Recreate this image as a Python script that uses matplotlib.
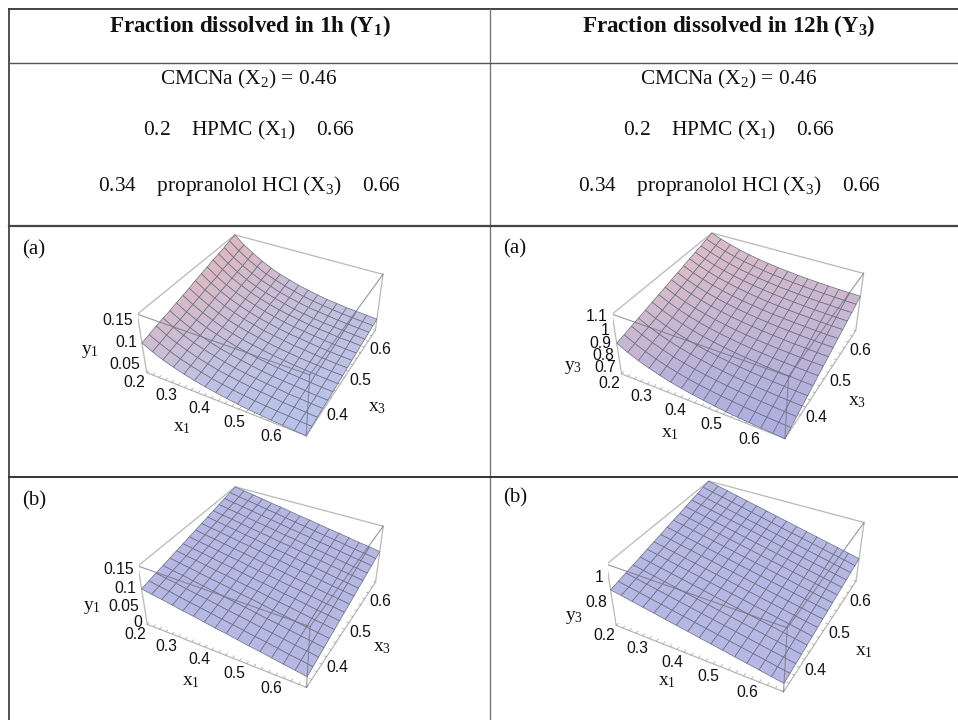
import numpy as np
import matplotlib
matplotlib.use("Agg")
import matplotlib.pyplot as plt
from matplotlib.colors import to_rgb
from mpl_toolkits.mplot3d import proj3d

plt.rcParams["font.family"] = ["Liberation Serif", "DejaVu Serif"]
plt.rcParams["mathtext.default"] = "regular"

# mesh values, rows = x3, columns = x1
y1_a = [
    [.100,.088,.078,.070,.063,.057,.052,.048,.044,.041,.038,.036,.034,.033,.031,.030],
    [.104,.092,.082,.073,.066,.060,.054,.050,.046,.043,.040,.038,.036,.035,.033,.032],
    [.109,.096,.086,.077,.069,.063,.057,.053,.049,.046,.043,.041,.038,.037,.035,.034],
    [.113,.100,.089,.080,.072,.066,.060,.055,.051,.048,.045,.043,.040,.039,.037,.036],
    [.116,.103,.092,.082,.074,.067,.062,.057,.053,.049,.046,.044,.042,.040,.038,.037],
    [.121,.107,.096,.086,.078,.071,.065,.060,.055,.052,.049,.046,.044,.042,.040,.039],
    [.125,.111,.099,.089,.080,.073,.067,.062,.058,.054,.051,.048,.046,.044,.042,.041],
    [.129,.115,.103,.092,.083,.076,.070,.065,.060,.056,.053,.050,.048,.046,.044,.043],
    [.134,.119,.107,.096,.087,.079,.073,.067,.063,.059,.055,.053,.050,.048,.046,.045],
    [.138,.123,.110,.099,.090,.082,.075,.070,.065,.061,.058,.055,.052,.050,.048,.047],
    [.142,.126,.113,.102,.093,.085,.078,.072,.067,.063,.060,.057,.054,.052,.050,.049],
    [.147,.131,.117,.106,.096,.088,.081,.075,.070,.066,.062,.059,.057,.054,.053,.051],
    [.150,.134,.120,.108,.098,.090,.083,.077,.071,.067,.063,.060,.058,.056,.054,.052],
    [.154,.137,.123,.111,.101,.093,.085,.079,.074,.069,.066,.063,.060,.058,.056,.054],
    [.159,.142,.127,.115,.104,.096,.088,.082,.076,.072,.068,.065,.062,.060,.058,.056],
    [.163,.145,.131,.118,.107,.098,.091,.084,.079,.074,.070,.067,.064,.062,.060,.058],
]
y3_a = [
    [.900,.858,.823,.793,.768,.746,.728,.713,.700,.689,.679,.671,.665,.659,.654,.650],
    [.914,.873,.839,.809,.784,.763,.745,.730,.718,.707,.698,.690,.683,.678,.673,.669],
    [.930,.890,.856,.827,.802,.782,.764,.749,.737,.726,.717,.709,.703,.698,.693,.689],
    [.944,.904,.871,.843,.819,.799,.782,.767,.755,.744,.736,.728,.722,.716,.712,.708],
    [.958,.919,.887,.859,.836,.816,.799,.785,.773,.763,.754,.747,.740,.735,.731,.727],
    [.974,.936,.904,.877,.854,.834,.818,.804,.792,.782,.774,.766,.760,.755,.751,.747],
    [.988,.951,.920,.893,.870,.851,.835,.822,.810,.800,.792,.785,.779,.774,.770,.766],
    [1.002,.966,.935,.909,.887,.869,.853,.839,.828,.818,.810,.803,.798,.793,.788,.785],
    [1.018,.982,.952,.927,.905,.887,.871,.858,.847,.838,.830,.823,.817,.813,.808,.805],
    [1.032,.997,.968,.943,.922,.904,.889,.876,.865,.856,.848,.842,.836,.831,.827,.824],
    [1.046,1.012,.983,.959,.938,.921,.906,.894,.883,.874,.867,.860,.855,.850,.846,.843],
    [1.062,1.029,1.001,.977,.957,.940,.925,.913,.902,.894,.886,.880,.875,.870,.866,.863],
    [1.076,1.043,1.016,.993,.973,.957,.943,.931,.920,.912,.905,.898,.893,.889,.885,.882],
    [1.090,1.058,1.032,1.009,.990,.974,.960,.948,.938,.930,.923,.917,.912,.908,.904,.901],
    [1.106,1.075,1.049,1.027,1.008,.992,.979,.967,.958,.949,.943,.937,.932,.928,.924,.921],
    [1.120,1.090,1.065,1.043,1.025,1.009,.996,.985,.976,.968,.961,.955,.950,.946,.943,.940],
]
y1_b = [
    [.100,.095,.091,.086,.081,.077,.072,.067,.063,.058,.053,.049,.044,.039,.035,.030],
    [.104,.099,.095,.090,.085,.081,.076,.071,.067,.062,.057,.053,.048,.043,.039,.034],
    [.108,.103,.099,.094,.089,.085,.080,.075,.071,.066,.061,.057,.052,.047,.043,.038],
    [.112,.107,.103,.098,.093,.089,.084,.079,.075,.070,.065,.061,.056,.051,.047,.042],
    [.116,.111,.107,.102,.097,.093,.088,.083,.079,.074,.069,.065,.060,.055,.051,.046],
    [.120,.115,.111,.106,.101,.097,.092,.087,.083,.078,.073,.069,.064,.059,.055,.050],
    [.124,.119,.115,.110,.105,.101,.096,.091,.087,.082,.077,.073,.068,.063,.059,.054],
    [.128,.123,.119,.114,.109,.105,.100,.095,.091,.086,.081,.077,.072,.067,.063,.058],
    [.132,.127,.123,.118,.113,.109,.104,.099,.095,.090,.085,.081,.076,.071,.067,.062],
    [.136,.131,.127,.122,.117,.113,.108,.103,.099,.094,.089,.085,.080,.075,.071,.066],
    [.140,.135,.131,.126,.121,.117,.112,.107,.103,.098,.093,.089,.084,.079,.075,.070],
    [.144,.139,.135,.130,.125,.121,.116,.111,.107,.102,.097,.093,.088,.083,.079,.074],
    [.148,.143,.139,.134,.129,.125,.120,.115,.111,.106,.101,.097,.092,.087,.083,.078],
    [.152,.147,.143,.138,.133,.129,.124,.119,.115,.110,.105,.101,.096,.091,.087,.082],
    [.156,.151,.147,.142,.137,.133,.128,.123,.119,.114,.109,.105,.100,.095,.091,.086],
    [.160,.155,.151,.146,.141,.137,.132,.127,.123,.118,.113,.109,.104,.099,.095,.090],
]
y3_b = [
    [.900,.885,.869,.854,.839,.823,.808,.793,.777,.762,.747,.731,.716,.701,.685,.670],
    [.913,.897,.882,.866,.851,.835,.819,.804,.788,.772,.757,.741,.726,.710,.694,.679],
    [.927,.911,.895,.879,.863,.847,.831,.815,.799,.783,.767,.751,.735,.719,.703,.687],
    [.940,.924,.907,.891,.875,.859,.842,.826,.810,.794,.777,.761,.745,.729,.712,.696],
    [.953,.936,.920,.903,.887,.870,.854,.837,.821,.804,.788,.771,.755,.738,.722,.705],
    [.967,.950,.933,.916,.899,.882,.865,.848,.832,.815,.798,.781,.764,.747,.730,.713],
    [.980,.963,.946,.928,.911,.894,.877,.860,.842,.825,.808,.791,.774,.756,.739,.722],
    [.993,.976,.958,.941,.923,.906,.888,.871,.853,.836,.818,.801,.783,.766,.748,.731],
    [1.007,.989,.971,.953,.935,.918,.900,.882,.864,.846,.828,.810,.793,.775,.757,.739],
    [1.020,1.002,.984,.966,.947,.929,.911,.893,.875,.857,.839,.821,.802,.784,.766,.748],
    [1.033,1.015,.996,.978,.959,.941,.923,.904,.886,.867,.849,.831,.812,.794,.775,.757],
    [1.047,1.028,1.009,.991,.972,.953,.934,.915,.897,.878,.859,.840,.821,.803,.784,.765],
    [1.060,1.041,1.022,1.003,.984,.965,.946,.927,.907,.888,.869,.850,.831,.812,.793,.774],
    [1.073,1.054,1.034,1.015,.996,.976,.957,.938,.918,.899,.880,.860,.841,.822,.802,.783],
    [1.087,1.067,1.048,1.028,1.008,.988,.969,.949,.929,.909,.890,.870,.850,.830,.811,.791],
    [1.100,1.080,1.060,1.040,1.020,1.000,.980,.960,.940,.920,.900,.880,.860,.840,.820,.800],
]

x1_range = (0.2, 0.66)
x3_range = (0.34, 0.66)
x1_ticks = [0.2, 0.3, 0.4, 0.5, 0.6]
x3_ticks = [0.4, 0.5, 0.6]

fig = plt.figure(figsize=(9.58, 7.2), dpi=100)
bg = fig.add_axes([0, 0, 1, 1])
bg.set_xlim(0, 958)
bg.set_ylim(720, 0)
bg.axis("off")


def draw_panel(scale, ox, oy, Z, zlim, zticks, low, high):
    # scale and offset turn the 3d view coordinates into figure pixels
    w = 0.185 * scale
    rect = [(ox - 0.095 * scale) / 958, (oy - 0.095 * scale) / 720, w / 958, w / 720]
    ax = fig.add_axes(rect, projection="3d", computed_zorder=False)
    ax.patch.set_alpha(0)
    ax.axis("off")
    ax.set_xlim(*x1_range, view_margin=0)
    ax.set_ylim(*x3_range, view_margin=0)
    ax.set_zlim(*zlim, view_margin=0)
    ax.view_init(elev=36.6, azim=-61.416)
    ax.set_proj_type("persp", focal_length=0.442)
    ax.set_box_aspect((2.455, 2.441, 1.0))

    Z = np.array(Z)
    X, Y = np.meshgrid(np.linspace(*x1_range, Z.shape[1]), np.linspace(*x3_range, Z.shape[0]))
    n = np.clip((Z - Z.min()) / (Z.max() - Z.min()) * 1.2, 0, 1)[..., None]
    cols = np.array(to_rgb(low)) * (1 - n) + np.array(to_rgb(high)) * n
    ax.plot_surface(X, Y, Z, facecolors=cols, edgecolor="#6b6e84", linewidth=0.5,
                    shade=False, rstride=1, cstride=1, zorder=2)

    x0, x1 = x1_range
    y0, y1 = x3_range
    z0, z1 = zlim
    back = [((x0,y0,z1),(x0,y1,z1)), ((x0,y1,z1),(x1,y1,z1)), ((x1,y1,z1),(x1,y1,z0)),
            ((x0,y0,z1),(x0,y0,z0)), ((x0,y0,z0),(x1,y0,z0)), ((x1,y0,z0),(x1,y1,z0))]
    front = [((x0,y0,z1),(x1,y0,z1)), ((x1,y0,z1),(x1,y1,z1)), ((x1,y0,z1),(x1,y0,z0))]
    for a, b in back:
        ax.plot(*zip(a, b), color="#b8b8b8", lw=0.9, zorder=1)
    for a, b in front:
        ax.plot(*zip(a, b), color="#737380", lw=0.8, alpha=0.75, zorder=3)

    # small ticks along the axes
    for t in np.arange(0.2, 0.661, 0.02):
        ax.plot([t, t], [y0, y0 + 0.006], [z0, z0], color="#a0a0a0", lw=0.5, zorder=1)
    for t in np.arange(0.34, 0.661, 0.02):
        ax.plot([x1, x1 - 0.006], [t, t], [z0, z0], color="#a0a0a0", lw=0.5, zorder=1)

    def tick_label(x, y, z, txt, dx, dy, ha="center"):
        px, py, _ = proj3d.proj_transform(x, y, z, ax.get_proj())
        ax.annotate(txt, xy=(px, py), xytext=(dx, -dy), textcoords="offset pixels", ha=ha, va="center",
                    family="Liberation Sans", fontsize=11.3, color="#111111",
                    annotation_clip=False, zorder=5)

    for t in x1_ticks:
        tick_label(t, y0, z0, f"{t:g}", -12, 10)
    for t in x3_ticks:
        tick_label(x1, t, z0, f"{t:g}", 16, 3)
    for t in zticks:
        tick_label(x0, y0, t, f"{t:g}", -5, -2 if t == 0 else 0, ha="right")
    return ax


draw_panel(1345.0, 266.1, 397.1, y1_a, (0.03, 0.163), [0.05, 0.1, 0.15], "#b7c3ea", "#dcb9c0")
draw_panel(1376.6, 743.9, 396.9, y3_a, (0.65, 1.12), [0.7, 0.8, 0.9, 1, 1.1], "#acafe0", "#dabcc6")
draw_panel(1342.8, 266.5, 145.3, y1_b, (0.0, 0.16), [0, 0.05, 0.1, 0.15], "#b4b8e2", "#b4b8e2")
draw_panel(1409.8, 741.5, 146.6, y3_b, (0.6, 1.1), [0.8, 1], "#b4b8e2", "#b4b8e2")

# table rules
bg.plot([9.5, 958], [8.5, 8.5], color="#222222", lw=1.2)
bg.plot([9.5, 9.5], [8.5, 720], color="#333333", lw=1.2)
bg.plot([490.5, 490.5], [8.5, 720], color="#777777", lw=1.0)
bg.plot([9.5, 958], [62.5, 62.5], color="#555555", lw=1.0)
bg.plot([9.5, 958], [225.5, 225.5], color="#444444", lw=1.6)
bg.plot([9.5, 958], [476.5, 476.5], color="#333333", lw=1.4)

for cx, title in [(250, "Fraction dissolved in 1h (Y$_{1}$)"), (729, "Fraction dissolved in 12h (Y$_{3}$)")]:
    bg.text(cx, 26, title, ha="center", va="center", fontsize=16.6, fontweight="bold", color="#111111")
for cx in (249, 729):
    bg.text(cx, 79.5, "CMCNa (X$_{2}$) = 0.46", ha="center", va="center", fontsize=15.4, color="#111111")
    bg.text(cx, 130.5, "0.2    HPMC (X$_{1}$)    0.66", ha="center", va="center", fontsize=15.4, color="#111111")
    bg.text(cx, 186.5, "0.34    propranolol HCl (X$_{3}$)    0.66", ha="center", va="center", fontsize=15.4, color="#111111")

for x, y, lab in [(22, 250, "(a)"), (503, 249, "(a)"), (22, 501, "(b)"), (503, 498, "(b)")]:
    bg.text(x, y, lab, ha="left", va="center", fontsize=15, color="#111111")

for x, y, lab in [(90, 351, "y$_{1}$"), (182, 428, "x$_{1}$"), (377, 407, "x$_{3}$"),
                  (573, 368, "y$_{3}$"), (670, 433, "x$_{1}$"), (857, 402, "x$_{3}$"),
                  (92, 607, "y$_{1}$"), (191, 682, "x$_{1}$"), (382, 647, "x$_{3}$"),
                  (574, 618, "y$_{3}$"), (667, 682, "x$_{1}$"), (864, 652, "x$_{1}$")]:
    bg.text(x, y, lab, ha="center", va="center", fontsize=14, color="#111111")

fig.savefig("out.png", dpi=100)
